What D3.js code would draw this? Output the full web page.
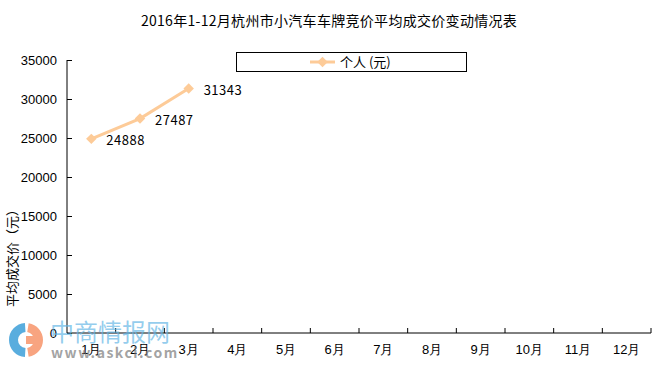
<!DOCTYPE html>
<html>
<head>
<meta charset="utf-8">
<script src="https://cdn.jsdelivr.net/npm/d3@7"></script>
<style>
    body { margin: 0; background: #fff; }
    svg { display: block; font-family: "Noto Sans CJK SC", "DejaVu Sans", sans-serif; }
</style>
</head>
<body>
<svg id="chart" width="671" height="367"></svg>
<script>
const months = ['1月', '2月', '3月', '4月', '5月', '6月', '7月', '8月', '9月', '10月', '11月', '12月'];
const personal = [24888, 27487, 31343];
const yTicks = [0, 5000, 10000, 15000, 20000, 25000, 30000, 35000];

function drawChart() {
    const svg = d3.select('#chart');
    const margin = { left: 67, right: 20, top: 60, bottom: 34 };
    const width = 651 - margin.left;
    const height = 333 - margin.top;

    const x = d3.scaleBand().domain(months).range([0, width]);
    const y = d3.scaleLinear().domain([0, 35000]).range([height, 0]);

    // title
    svg.append('text')
        .attr('x', 329)
        .attr('y', 26)
        .attr('text-anchor', 'middle')
        .attr('font-size', 14)
        .attr('letter-spacing', 0.3)
        .attr('fill', '#000')
        .text('2016年1-12月杭州市小汽车车牌竞价平均成交价变动情况表');

    const g = svg.append('g')
        .attr('transform', `translate(${margin.left}, ${margin.top})`);

    // y axis, ticks point inward
    const yAxis = g.append('g')
        .call(d3.axisLeft(y).tickValues(yTicks).tickSize(-5).tickPadding(10).tickFormat(d3.format('d')));
    yAxis.select('.domain').attr('stroke', '#000').attr('d', `M0,0V${height}`);
    yAxis.selectAll('.tick text').attr('font-size', 13).attr('fill', '#000');

    // x axis, ticks on category borders pointing up
    const xAxis = g.append('g')
        .attr('transform', `translate(0, ${height})`)
        .call(d3.axisBottom(x).tickSize(0).tickPadding(12));
    xAxis.select('.domain').attr('stroke', '#000').attr('d', `M0,0H${width}`);
    xAxis.selectAll('.tick text').attr('font-size', 13).attr('fill', '#000');
    g.append('g')
        .selectAll('line')
        .data(months)
        .enter()
        .append('line')
        .attr('x1', (d) => x(d) + x.bandwidth())
        .attr('x2', (d) => x(d) + x.bandwidth())
        .attr('y1', height)
        .attr('y2', height - 5)
        .attr('stroke', '#000');

    // y axis title
    svg.append('text')
        .attr('transform', 'translate(17, 255) rotate(-90)')
        .attr('text-anchor', 'middle')
        .attr('font-size', 13)
        .attr('fill', '#000')
        .text('平均成交价（元）');

    const lineColor = '#FDCB98';
    const pts = personal.map((v, i) => ({ m: months[i], v: v }));
    const line = d3.line()
        .x((d) => x(d.m) + x.bandwidth() / 2)
        .y((d) => y(d.v));

    g.append('path')
        .datum(pts)
        .attr('d', line)
        .attr('fill', 'none')
        .attr('stroke', lineColor)
        .attr('stroke-width', 3);

    const diamond = d3.symbol().type(d3.symbolDiamond2).size(70);
    g.selectAll('.pt')
        .data(pts)
        .enter()
        .append('path')
        .attr('class', 'pt')
        .attr('d', diamond)
        .attr('transform', (d) => `translate(${x(d.m) + x.bandwidth() / 2}, ${y(d.v)})`)
        .attr('fill', lineColor);

    g.selectAll('.lbl')
        .data(pts)
        .enter()
        .append('text')
        .attr('class', 'lbl')
        .attr('x', (d) => x(d.m) + x.bandwidth() / 2 + 15)
        .attr('y', (d) => y(d.v) + 6)
        .attr('font-size', 13)
        .attr('letter-spacing', 0.5)
        .attr('fill', '#000')
        .text((d) => d.v);

    // legend
    const leg = svg.append('g');
    leg.append('rect')
        .attr('x', 236.5)
        .attr('y', 52.5)
        .attr('width', 230)
        .attr('height', 19)
        .attr('fill', '#fff')
        .attr('stroke', '#000');
    leg.append('line')
        .attr('x1', 310)
        .attr('x2', 335)
        .attr('y1', 62)
        .attr('y2', 62)
        .attr('stroke', lineColor)
        .attr('stroke-width', 3);
    leg.append('path')
        .attr('d', diamond)
        .attr('transform', 'translate(322.5, 62)')
        .attr('fill', lineColor);
    leg.append('text')
        .attr('x', 340)
        .attr('y', 67)
        .attr('font-size', 13)
        .attr('fill', '#000')
        .text('个人 (元)');

    // watermark
    const wm = svg.append('g').attr('opacity', 0.85);
    const arc = d3.arc().innerRadius(8).outerRadius(17);
    wm.append('path')
        .attr('transform', 'translate(26, 340)')
        .attr('d', arc({ startAngle: Math.PI * 1.02, endAngle: Math.PI * 1.98 }))
        .attr('fill', '#3d9fd9');
    wm.append('path')
        .attr('transform', 'translate(26, 340)')
        .attr('d', arc({ startAngle: Math.PI * 0.05, endAngle: Math.PI * 0.95 }))
        .attr('fill', '#f7956a');
    wm.append('rect')
        .attr('x', 26)
        .attr('y', 336)
        .attr('width', 10)
        .attr('height', 8)
        .attr('fill', '#f7956a');
    wm.append('text')
        .attr('x', 50)
        .attr('y', 341)
        .attr('font-size', 24)
        .attr('fill', '#5fb5e6')
        .attr('fill-opacity', 0.8)
        .text('中商情报网');
    wm.append('text')
        .attr('x', 51)
        .attr('y', 358)
        .attr('font-size', 14)
        .attr('font-weight', 'bold')
        .attr('letter-spacing', 1.5)
        .attr('fill', '#777')
        .attr('fill-opacity', 0.8)
        .text('www.askci.com');
}

drawChart();
</script>
</body>
</html>
